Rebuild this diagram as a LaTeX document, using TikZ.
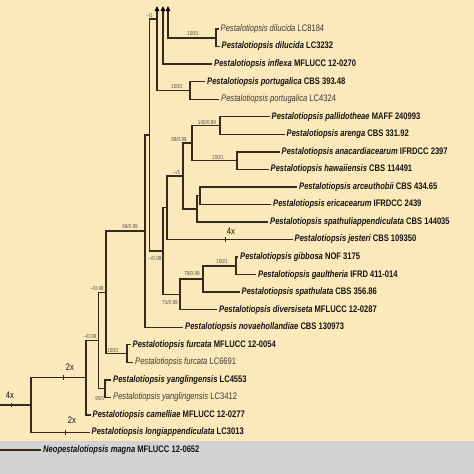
\documentclass[tikz,border=0pt]{standalone}
\usepackage{fontspec}
\setmainfont{Liberation Sans}[FakeStretch=0.8]
\definecolor{cream}{RGB}{252,233,187}
\definecolor{band}{RGB}{211,211,211}
\definecolor{brc}{RGB}{52,43,28}
\definecolor{txb}{RGB}{22,20,16}
\definecolor{txn}{RGB}{62,56,50}
\definecolor{spc}{RGB}{85,78,65}
\newcommand{\taxb}[2]{{\bfseries\itshape #1} {\bfseries #2}}
\newcommand{\taxn}[2]{{\itshape #1} #2}
\begin{document}
\begin{tikzpicture}[x=1pt,y=-1pt,
  every node/.style={font=\fontsize{9.5}{11}\selectfont,inner sep=2pt},
  branch/.style={draw=brc,line width=1.4pt},
  leafb/.style={anchor=west,text=txb},
  leafn/.style={anchor=west,text=txn},
  supp/.style={font=\fontsize{5.8}{6}\selectfont,text=spc,inner sep=0pt},
  mult/.style={font=\fontsize{9.5}{10}\selectfont,text=txb,inner sep=0pt}]
\useasboundingbox (0,0) rectangle (474,474);
\fill[cream] (0,0) rectangle (474,441);
\fill[band] (0,441) rectangle (474,474);
\coordinate (ntop) at (157,19);
\coordinate (tri1) at (157,11);
\coordinate (tri2) at (163,11);
\coordinate (tri3) at (168,11);
\coordinate (ndil) at (216,37.8);
\coordinate (npor) at (190,90.4);
\coordinate (npal) at (220,125.5);
\coordinate (nana) at (237,160.5);
\coordinate (nB) at (192,143);
\coordinate (nE) at (200,195.6);
\coordinate (nD) at (197,208.8);
\coordinate (nC) at (183,175.9);
\coordinate (nF) at (167,207.7);
\coordinate (nP) at (236,265.8);
\coordinate (nO) at (203,279);
\coordinate (nH) at (180,294.3);
\coordinate (nN) at (163,251);
\coordinate (nL) at (149.5,135);
\coordinate (nM) at (145,231);
\coordinate (nfur) at (127,353.5);
\coordinate (nI) at (106,292.3);
\coordinate (nyan) at (105,388.6);
\coordinate (nJ) at (98.5,340.4);
\coordinate (nK) at (86,377.6);
\coordinate (nR) at (31,405);
\coordinate (root) at (0,405);
\coordinate (outg) at (0,450);
\node[leafn] (dil1) at (218.5,29) {\taxn{Pestalotiopsis dilucida}{LC8184}};
\node[leafb] (dil2) at (219.5,46.5) {\taxb{Pestalotiopsis dilucida}{LC3232}};
\node[leafb] (infl) at (212,64.1) {\taxb{Pestalotiopsis inflexa}{MFLUCC 12-0270}};
\node[leafb] (por1) at (205,81.6) {\taxb{Pestalotiopsis portugalica}{CBS 393.48}};
\node[leafn] (por2) at (219,99.2) {\taxn{Pestalotiopsis portugalica}{LC4324}};
\node[leafb] (pal) at (269.5,116.7) {\taxb{Pestalotiopsis pallidotheae}{MAFF 240993}};
\node[leafb] (are) at (284.5,134.3) {\taxb{Pestalotiopsis arenga}{CBS 331.92}};
\node[leafb] (ana) at (279.5,151.8) {\taxb{Pestalotiopsis anacardiacearum}{IFRDCC 2397}};
\node[leafb] (haw) at (268.5,169.3) {\taxb{Pestalotiopsis hawaiiensis}{CBS 114491}};
\node[leafb] (arc) at (297,186.9) {\taxb{Pestalotiopsis arceuthobii}{CBS 434.65}};
\node[leafb] (eri) at (271,204.4) {\taxb{Pestalotiopsis ericacearum}{IFRDCC 2439}};
\node[leafb] (spa) at (268,222) {\taxb{Pestalotiopsis spathuliappendiculata}{CBS 144035}};
\node[leafb] (jes) at (292.5,239.5) {\taxb{Pestalotiopsis jesteri}{CBS 109350}};
\node[leafb] (gib) at (238,257) {\taxb{Pestalotiopsis gibbosa}{NOF 3175}};
\node[leafb] (gau) at (256,274.6) {\taxb{Pestalotiopsis gaultheria}{IFRD 411-014}};
\node[leafb] (sph) at (239.5,292.1) {\taxb{Pestalotiopsis spathulata}{CBS 356.86}};
\node[leafb] (div) at (217,309.7) {\taxb{Pestalotiopsis diversiseta}{MFLUCC 12-0287}};
\node[leafb] (nov) at (183,327.2) {\taxb{Pestalotiopsis novaehollandiae}{CBS 130973}};
\node[leafb] (fur1) at (130.5,344.7) {\taxb{Pestalotiopsis furcata}{MFLUCC 12-0054}};
\node[leafn] (fur2) at (133,362.3) {\taxn{Pestalotiopsis furcata}{LC6691}};
\node[leafb] (yan1) at (111,379.8) {\taxb{Pestalotiopsis yanglingensis}{LC4553}};
\node[leafn] (yan2) at (111,397.4) {\taxn{Pestalotiopsis yanglingensis}{LC3412}};
\node[leafb] (cam) at (90.5,414.9) {\taxb{Pestalotiopsis camelliae}{MFLUCC 12-0277}};
\node[leafb] (lon) at (89.5,432.5) {\taxb{Pestalotiopsis longiappendiculata}{LC3013}};
\node[leafb] (neo) at (41,450) {\taxb{Neopestalotiopsis magna}{MFLUCC 12-0652}};
\draw[branch] (nL) |- (ntop);
\draw[branch] (tri1) |- (npor);
\draw[branch] (tri2) |- (infl.west);
\draw[branch] (tri3) |- (ndil);
\draw[branch] (ndil) |- (dil1.west);
\draw[branch] (ndil) |- (dil2.west);
\draw[branch] (npor) |- (por1.west);
\draw[branch] (npor) |- (por2.west);
\draw[branch] (nL) |- (nN);
\draw[branch] (nN) |- (nF);
\draw[branch] (nN) |- (nH);
\draw[branch] (nF) |- (nC);
\draw[branch] (nF) |- (jes.west);
\draw[branch] (nC) |- (nB);
\draw[branch] (nC) |- (nD);
\draw[branch] (nB) |- (npal);
\draw[branch] (nB) |- (nana);
\draw[branch] (npal) |- (pal.west);
\draw[branch] (npal) |- (are.west);
\draw[branch] (nana) |- (ana.west);
\draw[branch] (nana) |- (haw.west);
\draw[branch] (nD) |- (nE);
\draw[branch] (nD) |- (spa.west);
\draw[branch] (nE) |- (arc.west);
\draw[branch] (nE) |- (eri.west);
\draw[branch] (nH) |- (nO);
\draw[branch] (nH) |- (div.west);
\draw[branch] (nO) |- (nP);
\draw[branch] (nO) |- (sph.west);
\draw[branch] (nP) |- (gib.west);
\draw[branch] (nP) |- (gau.west);
\draw[branch] (nM) |- (nL);
\draw[branch] (nM) |- (nov.west);
\draw[branch] (nI) |- (nM);
\draw[branch] (nI) |- (nfur);
\draw[branch] (nfur) |- (fur1.west);
\draw[branch] (nfur) |- (fur2.west);
\draw[branch] (nJ) |- (nI);
\draw[branch] (nJ) |- (nyan);
\draw[branch] (nyan) |- (yan1.west);
\draw[branch] (nyan) |- (yan2.west);
\draw[branch] (nK) |- (nJ);
\draw[branch] (nK) |- (cam.west);
\draw[branch] (nR) |- (nK);
\draw[branch] (nR) |- (lon.west);
\draw[branch] (root) -- (nR);
\draw[branch] (outg) -- (neo.west);
\foreach \t in {tri1,tri2,tri3}
  \fill[black] (\t) ++(-2.4,0) -- ++(4.8,0) -- ++(-2.4,-5) -- cycle;
\coordinate (k1) at (11,405);
\coordinate (k2) at (63,377.6);
\coordinate (k3) at (65,432.5);
\coordinate (k4) at (225,239.5);
\foreach \k in {k1,k2,k3,k4}
  \draw[brc,line width=0.7pt] (\k) ++(0,-2.2) -- ++(0,4.4);
\node[mult] (m1) at (10,395) {4x};
\node[mult] (m2) at (70,367) {2x};
\node[mult] (m3) at (72,420) {2x};
\node[mult] (m4) at (231,231) {4x};
\node[supp] (s1) at (149.5,15) {--/1};
\node[supp] (s2) at (193,33) {100/1};
\node[supp] (s3) at (177,86) {100/1};
\node[supp] (s4) at (207,122) {100/0.99};
\node[supp] (s5) at (179,139) {69/0.98};
\node[supp] (s6) at (218,157) {100/1};
\node[supp] (s7) at (177,172) {--/1};
\node[supp] (s8) at (155,258) {--/0.99};
\node[supp] (s9) at (222,261.5) {100/1};
\node[supp] (s10) at (192,273.5) {79/0.99};
\node[supp] (s11) at (170,302) {71/0.99};
\node[supp] (s12) at (130,226.5) {69/0.99};
\node[supp] (s13) at (97,288) {--/0.99};
\node[supp] (s14) at (90,336) {--/0.99};
\node[supp] (s15) at (113,350) {100/1};
\node[supp] (s16) at (100,398) {99/1};
\end{tikzpicture}
\end{document}
